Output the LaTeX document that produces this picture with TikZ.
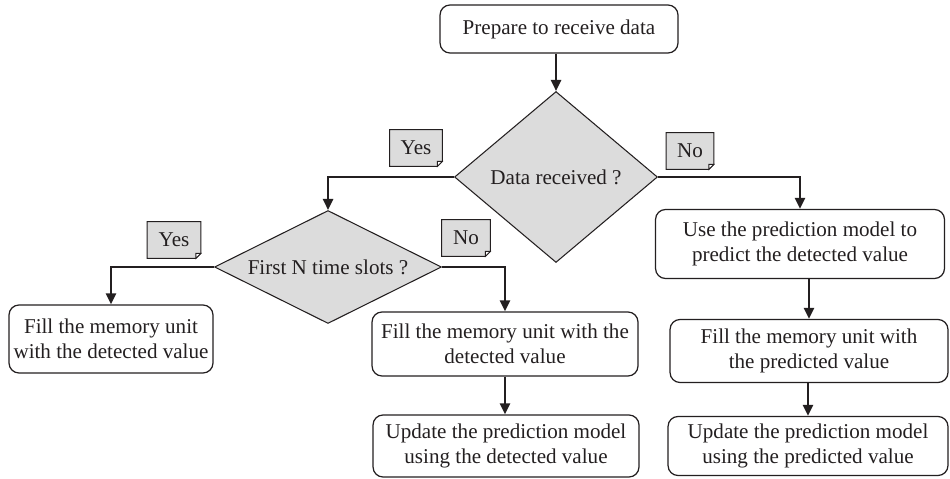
\documentclass[tikz,border=0pt]{standalone}
\usepackage{fontspec}
\setmainfont{Liberation Serif}
\usetikzlibrary{shapes,shapes.geometric,arrows.meta,backgrounds,calc}
\definecolor{ink}{HTML}{231F20}
\definecolor{shade}{HTML}{DCDCDC}

\begin{document}
\begin{tikzpicture}
	[x=0.02cm,y=-0.02cm,
	every node/.style={font=\fontsize{12}{14.2}\selectfont,text=ink,align=center,inner sep=1pt},
	box/.style={draw=ink,line width=0.7pt,rounded corners=0.2cm},
	ask/.style={shape=diamond,draw=ink,fill=shade,line width=0.6pt,inner sep=0pt},
	tag/.style={minimum width=1.0cm,minimum height=0.72cm,inner sep=0pt},
	flow/.style={draw=ink,line width=1.4pt,-{Triangle[length=2.2mm,width=2mm]}}]
	\useasboundingbox (0,0) rectangle (950,479);
	
	\node[box,minimum width=4.76cm,minimum height=0.96cm] (prep) at (559,29) {Prepare to receive data};
	\node[ask,minimum width=4.06cm,minimum height=3.42cm] (d1) at (556,177) {Data received ?};
	\node[ask,aspect=2,minimum width=4.54cm,minimum height=2.26cm] (d2) at (328,267) {First N time slots ?};
	
	\node[box,minimum width=4.08cm,minimum height=1.36cm] (fillA) at (111,339) {Fill the memory unit\\with the detected value};
	\node[box,minimum width=5.32cm,minimum height=1.28cm] (fillB) at (505,344) {Fill the memory unit with the\\detected value};
	\node[box,minimum width=5.32cm,minimum height=1.24cm] (updB) at (506,446) {Update the prediction model\\using the detected value};
	\node[box,minimum width=5.78cm,minimum height=1.38cm] (pred) at (800,244) {Use the prediction model to\\predict the detected value};
	\node[box,minimum width=5.56cm,minimum height=1.26cm] (fillC) at (809,351) {Fill the memory unit with\\the predicted value};
	\node[box,minimum width=5.6cm,minimum height=1.18cm] (updC) at (808,446) {Update the prediction model\\using the predicted value};
	
	\node[tag,minimum width=1.04cm] (y1) at (416,148) {Yes};
	\node[tag,minimum width=0.94cm] (n1) at (690,151) {No};
	\node[tag,minimum width=1.06cm] (y2) at (174,240) {Yes};
	\node[tag,minimum width=0.96cm] (n2) at (466,238) {No};
	
	\begin{scope}[on background layer]
		\foreach \t in {y1,n1,y2,n2}
		{
			\draw[fill=shade,draw=ink,line width=0.5pt] (\t.north west) -- (\t.north east)
				-- ([yshift=0.1cm]\t.south east) -- ([xshift=-0.1cm]\t.south east)
				-- (\t.south west) -- cycle;
			\draw[fill=white,draw=ink,line width=0.5pt] ([yshift=0.1cm]\t.south east)
				-- ([shift={(-0.1cm,0.1cm)}]\t.south east) -- ([xshift=-0.1cm]\t.south east) -- cycle;
		}
	\end{scope}
	
	\draw[flow] (prep.south -| d1.north) -- (d1.north);
	\draw[flow] (d1.west) -| (d2.north);
	\draw[flow] (d1.east) -| (pred.north);
	\draw[flow] (d2.west) -| (fillA.north);
	\draw[flow] (d2.east) -| (fillB.north);
	\draw[flow] (fillB.south) -- (fillB.south |- updB.north);
	\draw[flow] (fillC.north |- pred.south) -- (fillC.north);
	\draw[flow] (updC.north |- fillC.south) -- (updC.north);
\end{tikzpicture}
\end{document}
